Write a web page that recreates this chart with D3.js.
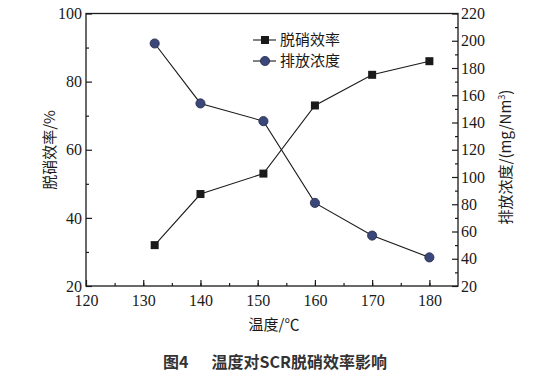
<!DOCTYPE html>
<html><head><meta charset="utf-8">
<script src="https://cdn.jsdelivr.net/npm/d3@7"></script>
<style>body{margin:0;background:#fff}svg{display:block}</style>
</head><body>
<svg id="c" width="540" height="381"></svg>
<script>
const temps = [132, 140, 151, 160, 170, 180];
const efficiency = [32, 47, 53, 73, 82, 86];
const emission = [198, 154, 141, 81, 57, 41];
const xTicks = [120, 130, 140, 150, 160, 170, 180];
const yLeftTicks = [20, 40, 60, 80, 100];
const yRightTicks = [20, 40, 60, 80, 100, 120, 140, 160, 180, 200, 220];
const seriesNames = ["脱硝效率", "排放浓度"];

const svg = d3.select("#c");
const L = 86, R = 458, T = 13.5, B = 286;
const x = d3.scaleLinear().domain([120, 185]).range([L, R]);
const yL = d3.scaleLinear().domain([20, 100]).range([B, T]);
const yR = d3.scaleLinear().domain([20, 220]).range([B, T]);
const ink = "#1a1a1a";
const serifFont = "Liberation Serif";
const cjk = "Noto Sans CJK SC";

// frame
svg.append("rect").attr("x", L).attr("y", T).attr("width", R - L).attr("height", B - T)
  .attr("fill", "none").attr("stroke", ink).attr("stroke-width", 1.3);

// bottom axis
const gx = svg.append("g").attr("transform", `translate(0,${B})`);
gx.call(d3.axisBottom(x).tickValues(d3.range(125, 185, 5)).tickSize(-3).tickFormat(""));
gx.call(g => g.append("g").call(d3.axisBottom(x).tickValues(xTicks).tickSize(-6).tickFormat(d3.format("d"))));
// left axis
const gl = svg.append("g").attr("transform", `translate(${L},0)`);
gl.call(d3.axisLeft(yL).tickValues(d3.range(30, 100, 20)).tickSize(-3).tickFormat(""));
gl.call(g => g.append("g").call(d3.axisLeft(yL).tickValues(yLeftTicks).tickSize(-6).tickFormat(d3.format("d"))));
// right axis
const gr = svg.append("g").attr("transform", `translate(${R},0)`);
gr.call(d3.axisRight(yR).tickValues(d3.range(30, 220, 20)).tickSize(-3).tickFormat(""));
gr.call(g => g.append("g").call(d3.axisRight(yR).tickValues(yRightTicks).tickSize(-6).tickFormat(d3.format("d"))));

svg.selectAll("g").attr("font-family", null).attr("font-size", null);
svg.selectAll(".domain").remove();
svg.selectAll(".tick line").attr("stroke", ink).attr("stroke-width", 1.2);
svg.selectAll(".tick text").style("font-family", `"${serifFont}"`).attr("font-size", 16).attr("fill", ink);
gx.selectAll(".tick text").attr("dy", "0.71em").attr("y", 9);
gl.selectAll(".tick text").attr("x", -4);
gr.selectAll(".tick text").attr("x", 3);

// efficiency series
const lineE = d3.line().x((d, i) => x(temps[i])).y(d => yL(d));
svg.append("path").datum(efficiency).attr("d", lineE).attr("fill", "none").attr("stroke", ink).attr("stroke-width", 1.1);
svg.selectAll(".sq").data(efficiency).enter().append("rect")
  .attr("x", (d, i) => x(temps[i]) - 4).attr("y", d => yL(d) - 4).attr("width", 8).attr("height", 8).attr("fill", ink);

// emission series
const lineM = d3.line().x((d, i) => x(temps[i])).y(d => yR(d));
svg.append("path").datum(emission).attr("d", lineM).attr("fill", "none").attr("stroke", ink).attr("stroke-width", 1.1);
svg.selectAll(".ci").data(emission).enter().append("circle")
  .attr("cx", (d, i) => x(temps[i])).attr("cy", d => yR(d)).attr("r", 4.6)
  .attr("fill", "#3b4778").attr("stroke", "#232a4a").attr("stroke-width", 0.8);

// legend
const leg = [{y: 40, shape: "sq"}, {y: 61, shape: "ci"}];
leg.forEach((l, i) => {
  svg.append("line").attr("x1", 253).attr("x2", 276).attr("y1", l.y).attr("y2", l.y).attr("stroke", ink).attr("stroke-width", 1.1);
  if (l.shape === "sq") svg.append("rect").attr("x", 261).attr("y", l.y - 4).attr("width", 8).attr("height", 8).attr("fill", ink);
  else svg.append("circle").attr("cx", 265).attr("cy", l.y).attr("r", 4.6).attr("fill", "#3b4778").attr("stroke", "#232a4a").attr("stroke-width", 0.8);
  svg.append("text").attr("x", 280).attr("y", l.y).attr("dy", "0.36em").style("font-family", `"${cjk}"`)
    .attr("font-size", 15).attr("fill", ink).text(seriesNames[i]);
});

// axis titles
svg.append("text").attr("transform", "translate(55,150) rotate(-90)").attr("text-anchor", "middle")
  .style("font-family", `"${cjk}"`).attr("font-size", 15).attr("fill", ink).text("脱硝效率/%");
const rt = svg.append("text").attr("transform", "translate(511,157) rotate(-90)").attr("text-anchor", "middle")
  .style("font-family", `"${cjk}"`).attr("font-size", 15).attr("fill", ink);
rt.append("tspan").text("排放浓度/(mg/Nm");
rt.append("tspan").attr("font-size", 9).attr("dy", -6).text("3");
rt.append("tspan").attr("dy", 6).text(")");
svg.append("text").attr("x", 274).attr("y", 330).attr("text-anchor", "middle")
  .style("font-family", `"${cjk}"`).attr("font-size", 15).attr("fill", ink).text("温度/℃");

// caption
svg.append("text").attr("x", 163).attr("y", 368)
  .style("font-family", `"${cjk}"`).attr("font-weight", "bold").attr("font-size", 16).attr("fill", "#333").text("图4");
svg.append("text").attr("x", 387).attr("y", 368).attr("text-anchor", "end")
  .style("font-family", `"${cjk}"`).attr("font-weight", "bold").attr("font-size", 16).attr("fill", "#333").text("温度对SCR脱硝效率影响");
</script>
</body></html>
